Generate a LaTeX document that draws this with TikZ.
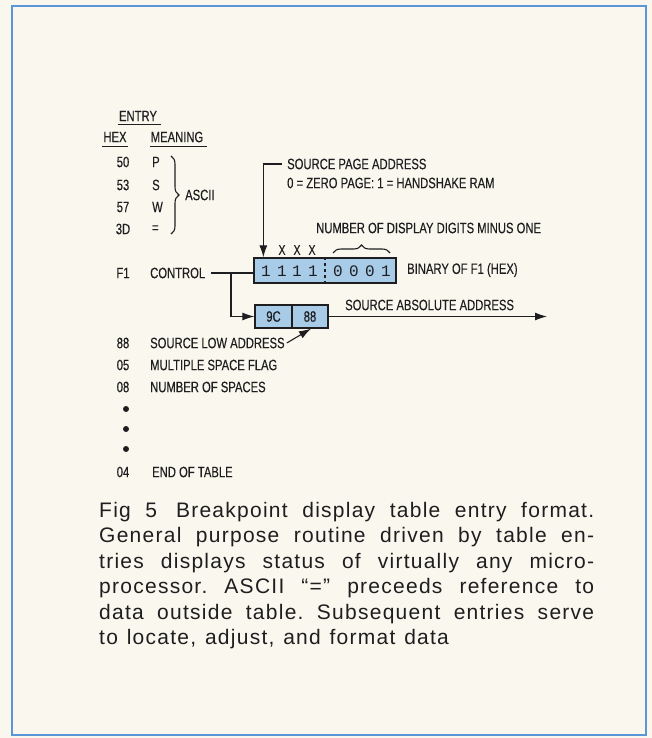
\documentclass[tikz,border=0pt]{standalone}
\usepackage{fontspec}
\setmainfont{Liberation Sans}
\newfontfamily\condfont[FakeStretch=0.75,FakeBold=0.3]{Liberation Sans}
\newfontfamily\capfont[LetterSpace=6]{Liberation Sans}
\newfontfamily\digfont{Liberation Mono}
\usetikzlibrary{arrows.meta,decorations.pathreplacing,positioning}
\definecolor{paper}{RGB}{250,248,238}
\definecolor{ink}{RGB}{30,30,32}
\definecolor{frameblue}{RGB}{92,150,214}
\definecolor{cellblue}{RGB}{168,203,232}

\begin{document}
\begin{tikzpicture}[x=1pt,y=-1pt,
	lbl/.style={font=\condfont\fontsize{15}{15}\selectfont, text=ink, inner sep=0pt},
	digit/.style={font=\digfont\fontsize{16}{16}\selectfont, text=ink, inner sep=0pt},
	cellbox/.style={draw=ink, fill=cellblue, line width=1.3pt, inner sep=0pt},
	wire/.style={draw=ink, line width=1.1pt},
	ptr/.style={wire, -{Latex[length=12pt,width=8pt]}},
	curly/.style={wire, decorate, decoration={brace, amplitude=8pt}}]
			\fill[paper] (0,0) rectangle (652,738);
			\draw[frameblue, line width=2.5pt] (12,6) rectangle (646,735);
			\node[lbl] (entry) at (138,116) {ENTRY};
			\node[lbl] (hex) at (115,137) {HEX};
			\node[lbl] (meaning) at (177,137) {MEANING};
			\draw[wire] ([shift={(-1pt,-3pt)}]entry.south west) -- ([shift={(4pt,-3pt)}]entry.south east);
			\draw[wire] ([shift={(-1pt,-4pt)}]hex.south west) -- ([shift={(1pt,-4pt)}]hex.south east);
			\draw[wire] ([shift={(-1pt,-4pt)}]meaning.south west) -- ([shift={(4pt,-4pt)}]meaning.south east);
			\foreach \h/\m/\y in {50/P/162,53/S/185,57/W/207,3D/{=}/229}
				{\node[lbl] (h\h) at (123,\y) {\h};
				\node[lbl, anchor=west] (m\h) at (152,\y) {\m};}
			\draw[curly] (171,156) -- (171,234);
			\node[lbl, anchor=west] (ascii) at (185,195) {ASCII};
			\node[lbl] (hF1) at (123,273) {F1};
			\node[lbl, anchor=west] (ctrl) at (150,273) {CONTROL};
			\node[cellbox, minimum width=142pt, minimum height=25pt] (bin) at (325,270.5) {};
			\draw[wire, dashed] (bin.north) -- (bin.south);
			\foreach \d/\x [count=\i] in {1/266,1/282,1/297,1/313,0/338,0/354,0/370,1/386}
				\node[digit] (d\i) at (\x,271) {\d};
			\foreach \x [count=\i from 2] in {282,297,312}
				\node[lbl, font=\condfont\fontsize{14}{14}\selectfont] (x\i) at (\x,250) {X};
			\draw[curly] (333,253) -- (390,253);
			\node[lbl, anchor=west] (digits) at (316,228) {NUMBER OF DISPLAY DIGITS MINUS ONE};
			\node[lbl, anchor=west] (srcpg) at (287,164) {SOURCE PAGE ADDRESS};
			\node[lbl, anchor=west] (pgnote) at (287,183) {0 = ZERO PAGE: 1 = HANDSHAKE RAM};
			\draw[ptr] ([xshift=-5pt]srcpg.west) -| ([xshift=10pt]bin.north west);
			\node[lbl, anchor=west] (binlbl) at (407,270) {BINARY OF F1 (HEX)};
			\node[cellbox, lbl, draw=ink, minimum width=37pt, minimum height=23pt] (c9C) at (273.5,316.5) {9C};
			\node[cellbox, lbl, draw=ink, minimum width=36pt, minimum height=23pt, right=-1.3pt of c9C] (c88) {88};
			\coordinate (split) at (231,273);
			\draw[wire] ([xshift=6pt]ctrl.east) -- (ctrl.east -| bin.west);
			\draw[ptr] (split) |- (c9C.west);
			\coordinate (absend) at (547,316.5);
			\draw[ptr] (c88.east) -- (absend);
			\node[lbl, anchor=west] (abslbl) at (345,305) {SOURCE ABSOLUTE ADDRESS};
			\node[lbl] (h88) at (123,343) {88};
			\node[lbl, anchor=west] (low) at (150,343) {SOURCE LOW ADDRESS};
			\draw[ptr] ([xshift=2pt]low.east) -- ([xshift=1pt]c88.south);
			\node[lbl] (h05) at (123,365) {05};
			\node[lbl, anchor=west] (flag) at (150,365) {MULTIPLE SPACE FLAG};
			\node[lbl] (h08) at (123,387) {08};
			\node[lbl, anchor=west] (spaces) at (150,387) {NUMBER OF SPACES};
			\foreach \y [count=\i] in {409,429,449}
				\node[circle, fill=ink, inner sep=0pt, minimum size=6pt] (dot\i) at (126,\y) {};
			\node[lbl] (h04) at (123,472) {04};
			\node[lbl, anchor=west] (eot) at (152,472) {END OF TABLE};
			\node[anchor=north west, inner sep=0pt, text width=495pt, align=justify, text=ink,
				font=\capfont\fontsize{21}{25.4}\selectfont] (caption) at (99,502)
				{\frenchspacing\spaceskip=0.42em plus 0.4em minus 0.05em
				Fig 5\hspace{0.9em}Breakpoint display table entry format.\linebreak
				General purpose routine driven by table en-\linebreak
				tries displays status of virtually any micro-\linebreak
				processor. ASCII “=” preceeds reference to\linebreak
				data outside table. Subsequent entries serve\linebreak
				to locate, adjust, and format data};
			\end{tikzpicture}
\end{document}
